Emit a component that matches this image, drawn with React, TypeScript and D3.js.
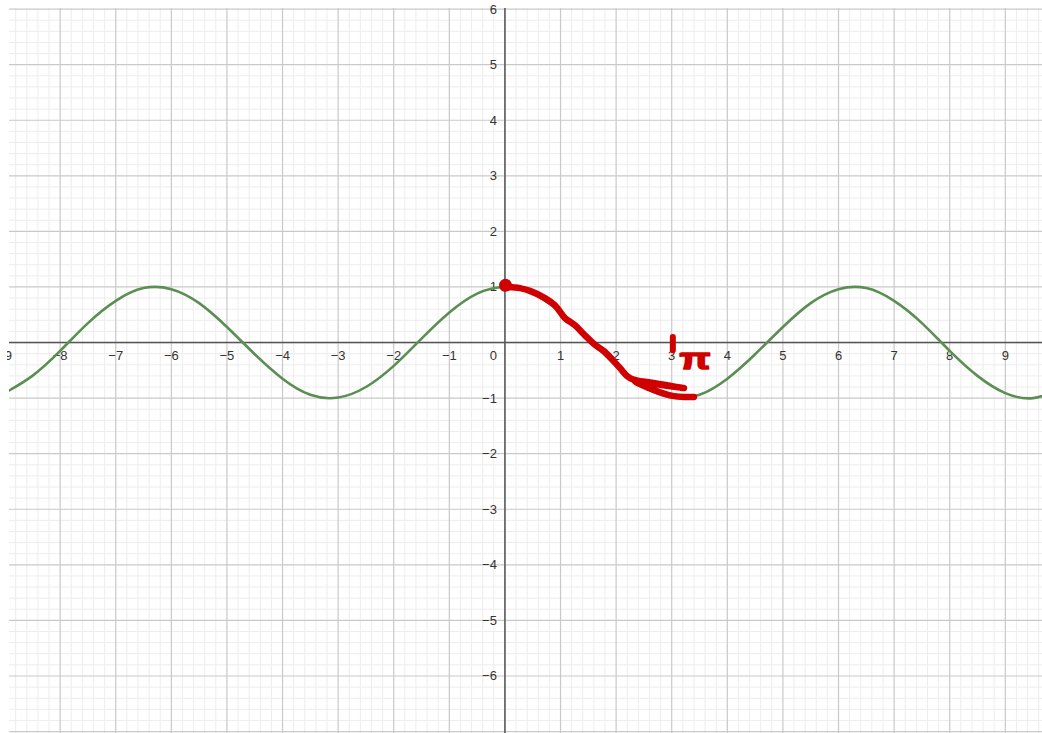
import React from 'react';
import * as d3 from 'd3';

const W = 1042;
const H = 733;

// Visible window of the graph, in graph units
const xDomain: [number, number] = [-8.92, 9.66];
const yDomain: [number, number] = [-6.99, 6.02];

// Numbered axis ticks
const xTickValues = [-9, -8, -7, -6, -5, -4, -3, -2, -1, 1, 2, 3, 4, 5, 6, 7, 8, 9];
const yTickValues = [6, 5, 4, 3, 2, 1, -1, -2, -3, -4, -5, -6];

// y = cos x, sampled every half unit
const curveX = [-9, -8.5, -8, -7.5, -7, -6.5, -6, -5.5, -5, -4.5, -4, -3.5, -3, -2.5, -2, -1.5, -1, -0.5, 0,
  0.5, 1, 1.5, 2, 2.5, 3, 3.5, 4, 4.5, 5, 5.5, 6, 6.5, 7, 7.5, 8, 8.5, 9, 9.5, 10];
const curveY = [-0.91, -0.6, -0.15, 0.35, 0.75, 0.98, 0.96, 0.71, 0.28, -0.21, -0.65, -0.94, -0.99, -0.8, -0.42, 0.07, 0.54, 0.88, 1,
  0.88, 0.54, 0.07, -0.42, -0.8, -0.99, -0.94, -0.65, -0.21, 0.28, 0.71, 0.96, 0.98, 0.75, 0.35, -0.15, -0.6, -0.91, -1.0, -0.84];

// Red pen annotation: trace from the peak at 0 down to the trough at π
const traceX = [0.02, 0.27, 0.45, 0.72, 0.9, 1.08, 1.26, 1.44, 1.62, 1.8, 2.07, 2.25, 3.22, 2.33, 2.97, 3.4];
const traceY = [1.0, 0.98, 0.93, 0.8, 0.67, 0.44, 0.31, 0.13, -0.04, -0.17, -0.46, -0.64, -0.82, -0.69, -0.95, -0.98];

// Red pen dot on the starting point
const dotX = 0.01;
const dotY = 1.03;

// Red pen tick over x = 3
const tickMarkX = [3.02, 3.02];
const tickMarkY = [0.1, -0.14];

// Handwritten label next to the tick
const piText = 'π';
const piX = 3.42;
const piY = -0.48;

const GREEN = '#5a8e52';
const RED = '#d10000';
const FONT = '"Liberation Sans", Arial, sans-serif';

export default function App() {
  const x = d3.scaleLinear().domain(xDomain).range([9, W]);
  const y = d3.scaleLinear().domain(yDomain).range([731, 8]);

  const x0 = x(0);
  const y0 = y(0);

  const minorX = d3.range(-45, 49).map((i) => i / 5).filter((v) => Math.abs(v * 5 - Math.round(v) * 5) > 1e-6);
  const minorY = d3.range(-35, 31).map((i) => i / 5).filter((v) => Math.abs(v * 5 - Math.round(v) * 5) > 1e-6);
  const majorX = d3.range(-8, 10);
  const majorY = d3.range(-7, 7);

  const cosLine = d3
    .line<number>()
    .x((_, i) => x(curveX[i]))
    .y((d) => y(d))
    .curve(d3.curveNatural);

  const traceLine = d3
    .line<number>()
    .x((_, i) => x(traceX[i]))
    .y((d) => y(d))
    .curve(d3.curveCatmullRom.alpha(0.5));

  const tickLine = d3
    .line<number>()
    .x((_, i) => x(tickMarkX[i]))
    .y((d) => y(d));

  return (
    <svg
      width={W}
      height={H}
      style={{ position: 'absolute', left: 0, top: 0, background: '#ffffff' }}
      xmlns="http://www.w3.org/2000/svg"
    >
      <defs>
        <clipPath id="plot">
          <rect x={9} y={8} width={W - 9} height={H - 8} />
        </clipPath>
        <clipPath id="labels">
          <rect x={7} y={0} width={W - 7} height={H} />
        </clipPath>
      </defs>
      <rect x={0} y={0} width={W} height={H} fill="#ffffff" />

      <g clipPath="url(#plot)">
        {minorX.map((v) => (
          <line key={'mx' + v} x1={x(v)} x2={x(v)} y1={8} y2={H} stroke="#ededed" strokeWidth={1} />
        ))}
        {minorY.map((v) => (
          <line key={'my' + v} x1={9} x2={W} y1={y(v)} y2={y(v)} stroke="#ededed" strokeWidth={1} />
        ))}
        {majorX.map((v) => (
          <line key={'Mx' + v} x1={x(v)} x2={x(v)} y1={8} y2={H} stroke="#c9c9c9" strokeWidth={1.2} />
        ))}
        {majorY.map((v) => (
          <line key={'My' + v} x1={9} x2={W} y1={y(v)} y2={y(v)} stroke="#c9c9c9" strokeWidth={1.2} />
        ))}

        {/* axes */}
        <line x1={9} x2={W} y1={y0} y2={y0} stroke="#555555" strokeWidth={1.5} />
        <line x1={x0} x2={x0} y1={8} y2={H} stroke="#555555" strokeWidth={1.5} />
      </g>

      <g clipPath="url(#labels)" fontFamily={FONT} fontSize={13} fill="#333333">
        {xTickValues.map((v) => (
          <text key={'xl' + v} x={x(v)} y={y0 + 17.5} textAnchor="middle">
            {v < 0 ? '\u2212' + Math.abs(v) : String(v)}
          </text>
        ))}
        {yTickValues.map((v) => (
          <text key={'yl' + v} x={x0 - 8} y={y(v) + 4.5} textAnchor="end">
            {v < 0 ? '\u2212' + Math.abs(v) : String(v)}
          </text>
        ))}
        <text x={x0 - 8} y={y0 + 17.5} textAnchor="end">
          0
        </text>
      </g>

      <g clipPath="url(#plot)">
        <path d={cosLine(curveY) ?? ''} fill="none" stroke={GREEN} strokeWidth={2.6} strokeLinejoin="round" />
      </g>

      {/* red pen annotations */}
      <g>
        <path
          d={traceLine(traceY) ?? ''}
          fill="none"
          stroke={RED}
          strokeWidth={6.5}
          strokeLinecap="round"
          strokeLinejoin="round"
        />
        <circle cx={x(dotX)} cy={y(dotY)} r={5} fill={RED} stroke={RED} strokeWidth={3} />
        <path d={tickLine(tickMarkY) ?? ''} stroke={RED} strokeWidth={6} strokeLinecap="round" fill="none" />
        <text
          x={0}
          y={0}
          transform={`translate(${x(piX)},${y(piY)}) scale(1.35,1)`}
          textAnchor="middle"
          fontFamily='"Liberation Sans", Arial, sans-serif'
          fontWeight="bold"
          fontSize={30}
          fill={RED}
          stroke={RED}
          strokeWidth={1.5}
          strokeLinejoin="round"
        >
          {piText}
        </text>
      </g>
    </svg>
  );
}
